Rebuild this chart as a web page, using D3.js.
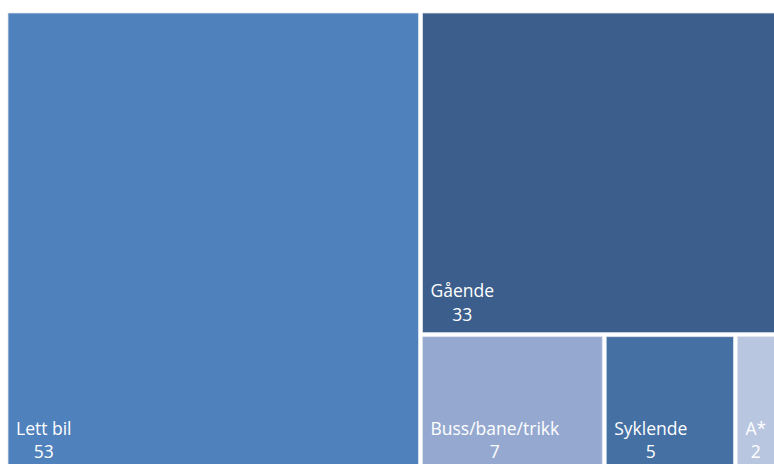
<!DOCTYPE html>
<html>
<head>
<meta charset="utf-8">
<script src="https://cdn.jsdelivr.net/npm/d3@7"></script>
<style>
  html, body { margin: 0; padding: 0; background: #ffffff; overflow: hidden; }
  svg { display: block; }
  text { font-family: "Open Sans", "Noto Sans", sans-serif; fill: #ffffff; }
</style>
</head>
<body>
<svg id="chart" width="774" height="464"></svg>
<script>
// Trafikantgrupper og andel
const categories = ["Lett bil", "Gående", "Buss/bane/trikk", "Syklende", "A*"];
const values = [53, 33, 7, 5, 2];
const colors = ["#4f81bd", "#3b5e8c", "#95a9d0", "#4470a4", "#b9c6e0"];

const svg = d3.select("#chart");
const origin = { x: 8, y: 13 };
const size = [778, 457];

const root = d3.hierarchy({
    children: categories.map((name, i) => ({ name, value: values[i], color: colors[i] }))
  })
  .sum(d => d.value || 0);

d3.treemap()
  .tile(d3.treemapSquarify)
  .size(size)
  .paddingInner(4)
  .round(false)(root);

const g = svg.append("g").attr("transform", `translate(${origin.x},${origin.y})`);

const cell = g.selectAll("g.cell")
  .data(root.leaves())
  .join("g")
  .attr("class", "cell");

cell.append("rect")
  .attr("x", d => d.x0)
  .attr("y", d => d.y0)
  .attr("width", d => d.x1 - d.x0)
  .attr("height", d => d.y1 - d.y0)
  .attr("fill", d => d.data.color)
  .attr("stroke", "#dfe4ec")
  .attr("stroke-width", 0.8);

const fontSize = 17.5;

// Name and value, anchored to the bottom-left of each cell
cell.each(function(d) {
  const sel = d3.select(this);
  const name = sel.append("text")
    .attr("x", d.x0 + 8)
    .attr("y", d.y1 - 35.5)
    .attr("font-size", fontSize)
    .text(d.data.name);
  const w = name.node().getComputedTextLength();
  sel.append("text")
    .attr("x", d.x0 + 8 + w / 2)
    .attr("y", d.y1 - 12)
    .attr("font-size", fontSize)
    .attr("text-anchor", "middle")
    .text(d.data.value);
});
</script>
</body>
</html>
